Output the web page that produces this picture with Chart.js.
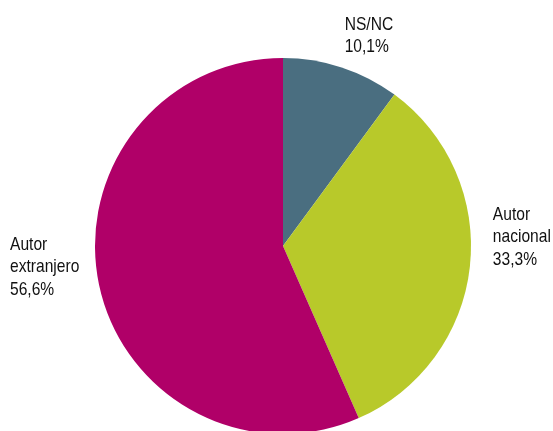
<!DOCTYPE html>
<html>
<head>
<meta charset="utf-8">
<script src="https://cdn.jsdelivr.net/npm/chart.js@4/dist/chart.umd.min.js"></script>
<style>
  html, body { margin: 0; padding: 0; background: #fff; overflow: hidden; }
  #wrap { position: relative; width: 553px; height: 434px; }
</style>
</head>
<body>
<div id="wrap"><canvas id="pieChart"></canvas></div>
<script>
// Daten
const categories = ["NS/NC", "Autor nacional", "Autor extranjero"];
const labelLines = [["NS/NC", "10,1%"], ["Autor", "nacional", "33,3%"], ["Autor", "extranjero", "56,6%"]];
const values = [10.1, 33.3, 56.6];
const colors = ["#4a6e80", "#b8c92a", "#b00068"];

// Textposition relativ zum Rand des Segments
const labelOffsets = [[3, -43], [23, -52], [-89, -40]];

const labelPlugin = {
  id: "sliceLabels",
  afterDraw(chart) {
    const c = chart.ctx;
    const arcs = chart.getDatasetMeta(0).data;
    const squeeze = 0.82; // schmale Schrift nachahmen
    c.save();
    c.font = "19px 'Liberation Sans', Arial, sans-serif";
    c.fillStyle = "#111";
    c.textBaseline = "middle";
    c.textAlign = "left";
    arcs.forEach((arc, i) => {
      const p = arc.getProps(["x", "y", "startAngle", "endAngle", "outerRadius"], true);
      const mid = (p.startAngle + p.endAngle) / 2;
      const ax = p.x + Math.cos(mid) * p.outerRadius;
      const ay = p.y + Math.sin(mid) * p.outerRadius;
      const x = ax + labelOffsets[i][0];
      const y = ay + labelOffsets[i][1];
      labelLines[i].forEach((line, j) => {
        c.save();
        c.translate(x, y + j * 22.5);
        c.scale(squeeze, 1);
        c.fillText(line, 0, 0);
        c.restore();
      });
    });
    c.restore();
  }
};

new Chart(document.getElementById("pieChart"), {
  type: "pie",
  data: {
    labels: categories,
    datasets: [{
      data: values,
      backgroundColor: colors,
      borderWidth: 0
    }]
  },
  options: {
    responsive: true,
    maintainAspectRatio: false,
    animation: false,
    layout: { padding: { top: 58, bottom: 0, left: 95, right: 82 } },
    plugins: {
      legend: { display: false },
      tooltip: { enabled: false }
    }
  },
  plugins: [labelPlugin]
});
</script>
</body>
</html>
